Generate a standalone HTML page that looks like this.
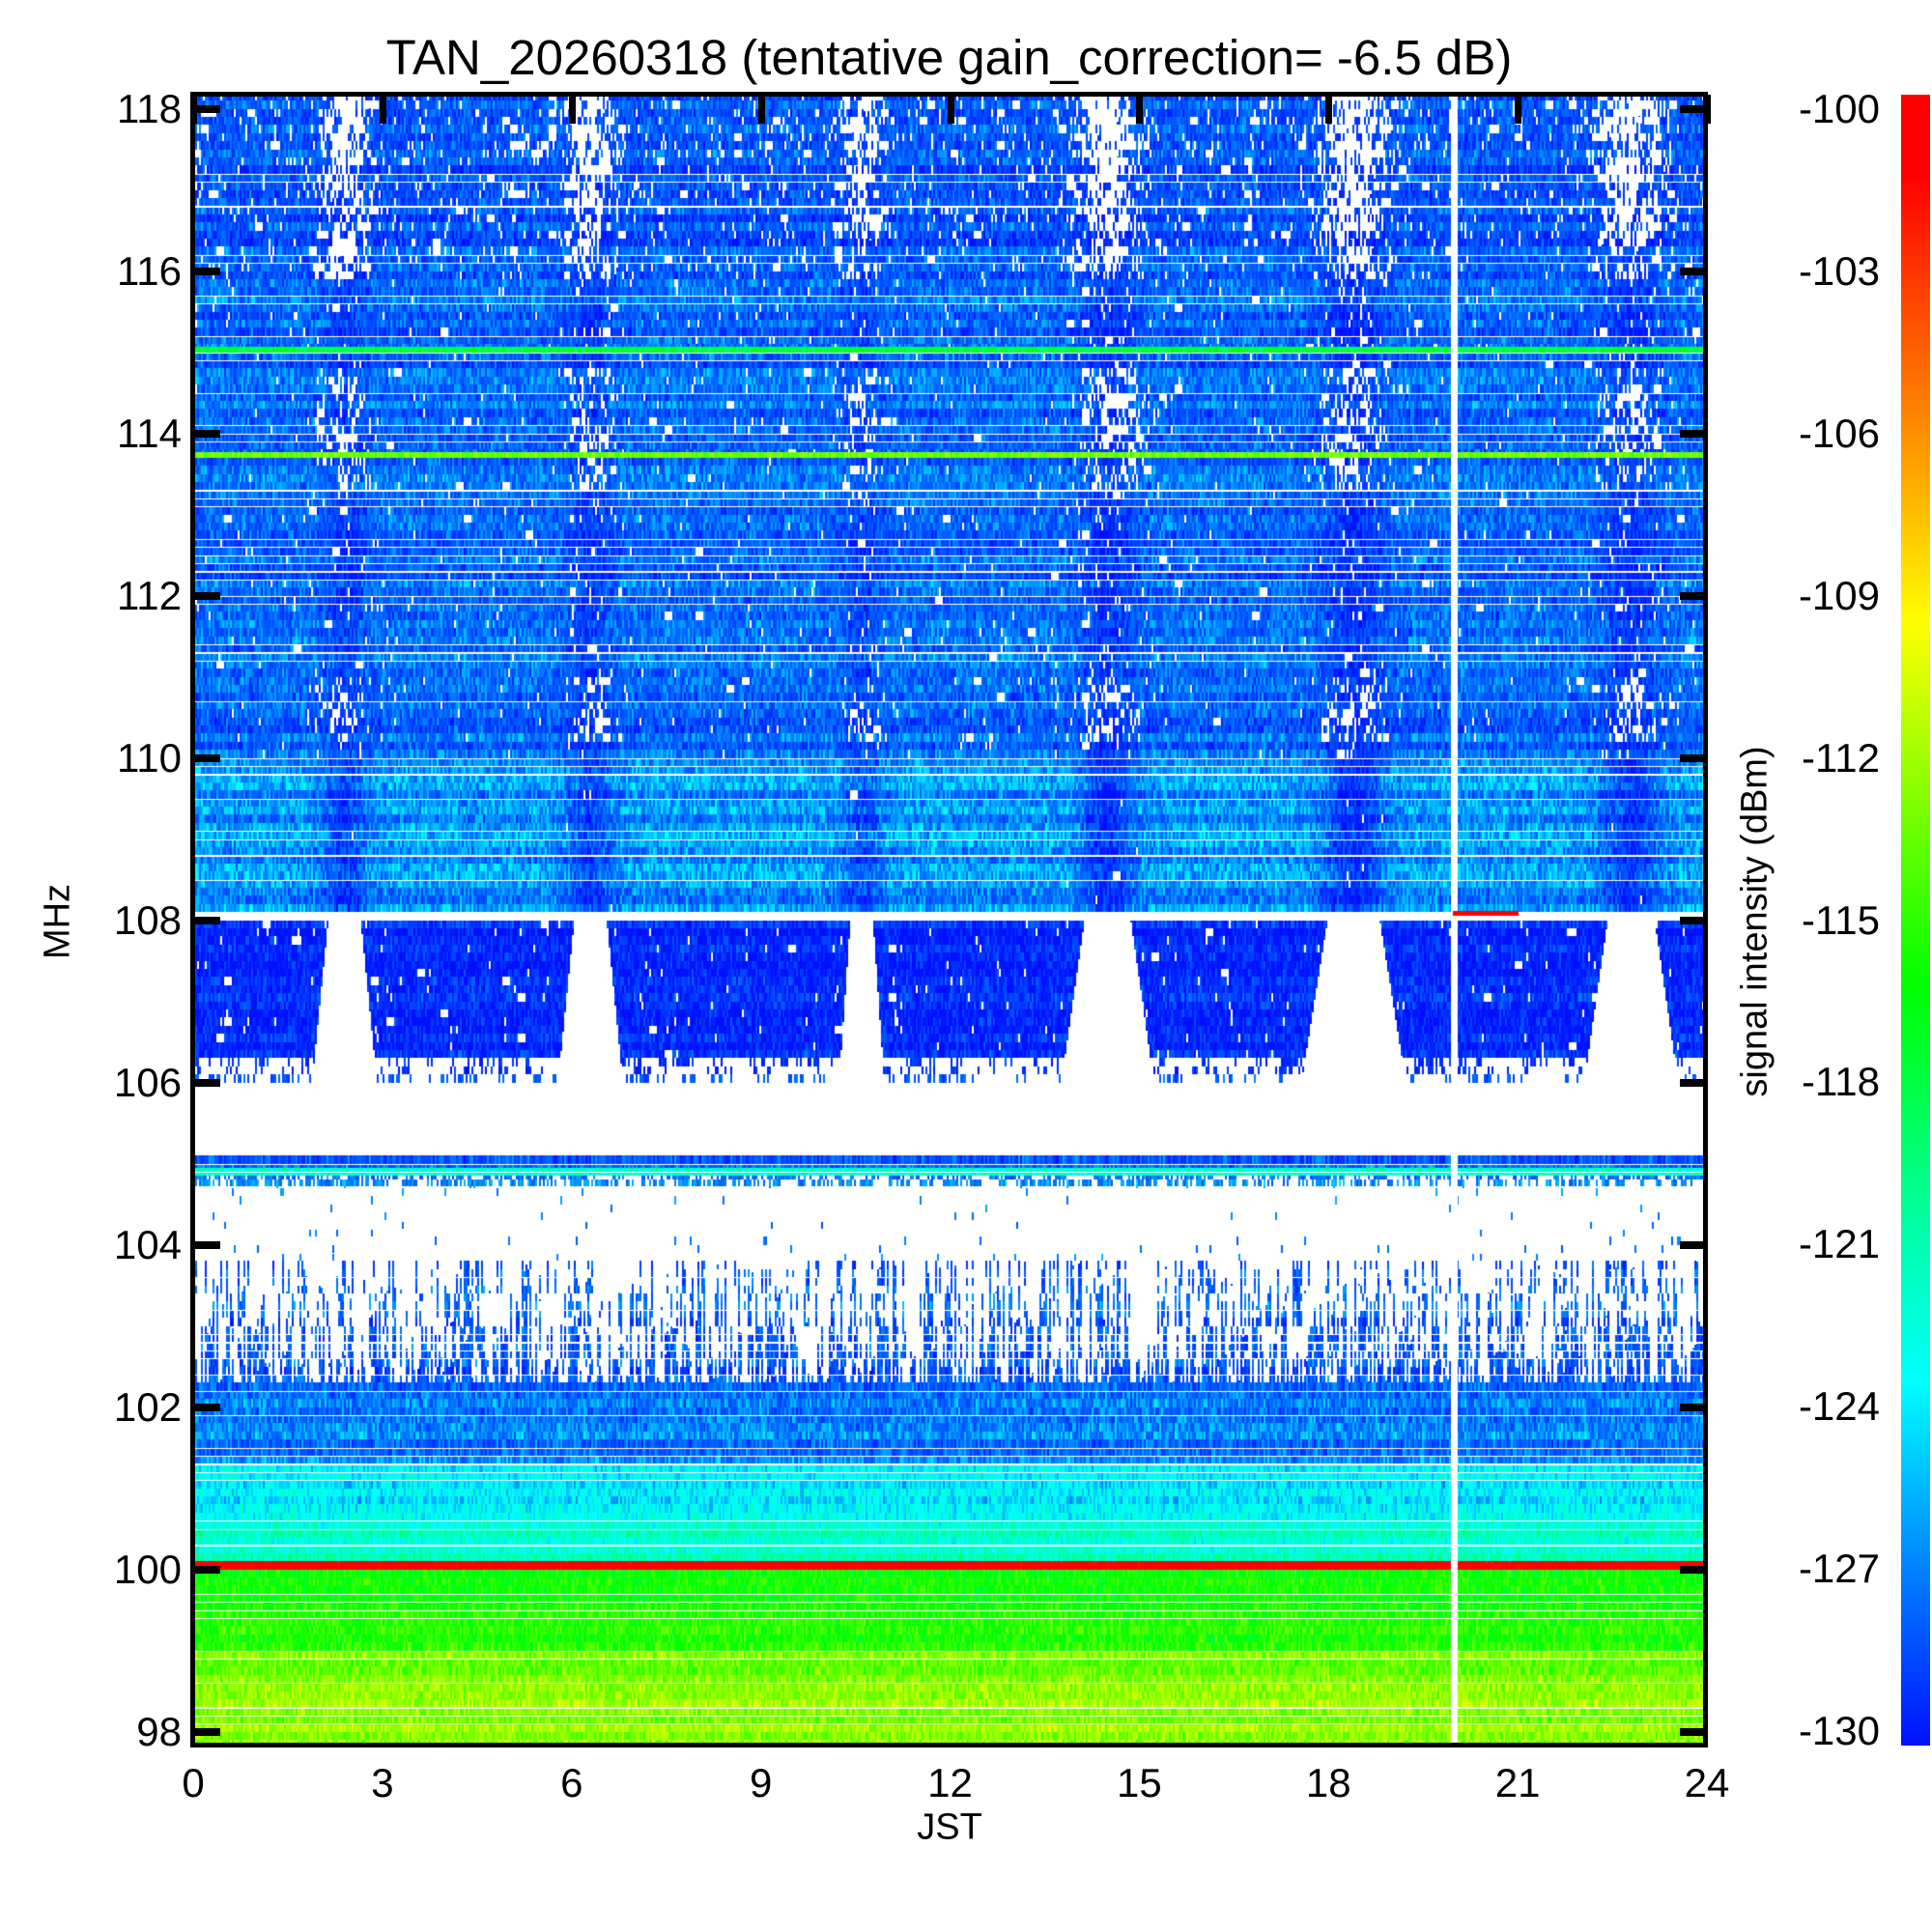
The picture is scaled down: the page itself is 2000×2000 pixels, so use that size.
<!DOCTYPE html>
<html><head><meta charset="utf-8">
<style>
html,body{margin:0;padding:0;background:#fff;}
#wrap{position:relative;width:2000px;height:2000px;overflow:hidden;font-family:"Liberation Sans",sans-serif;color:#000;}
.t{position:absolute;white-space:nowrap;}
</style></head>
<body>
<div id="wrap">
  <div class="t" style="left:0;width:1965px;text-align:center;top:30px;font-size:51px;">TAN_20260318 (tentative gain_correction= -6.5 dB)</div>
  <canvas id="hm" width="1567" height="1709" style="position:absolute;left:200px;top:98px;"></canvas>
  <div style="position:absolute;box-sizing:border-box;left:197px;top:95px;width:1571px;height:1714px;border:5px solid #000;"></div>
  <div class="t" style="left:60px;top:954px;font-size:38px;transform:translate(-50%,-50%) rotate(-90deg);">MHz</div>
  <div class="t" style="left:983px;top:1892px;font-size:38px;transform:translate(-50%,-50%);">JST</div>
  <div style="position:absolute;left:1968px;top:98px;width:30px;height:1709px;background:linear-gradient(to bottom,#ff0000 0%,#ff0000 5%,#ff8000 19%,#ffff00 32%,#00ff00 54%,#00ffaa 69%,#00ffff 78%,#0090ff 88%,#0010ff 100%);"></div>
  <div class="t" style="left:1817px;top:954px;font-size:38px;transform:translate(-50%,-50%) rotate(-90deg);">signal intensity (dBm)</div>
</div>
<script>
// ---- data ----
const yTicks = [98,100,102,104,106,108,110,112,114,116,118];
const xTicks = [0,3,6,9,12,15,18,21,24];
const cbTicks = [-100,-103,-106,-109,-112,-115,-118,-121,-124,-127,-130];
const bandLo    = [97.8, 99.0, 100.0, 100.1, 100.6, 101.3, 102.3, 103.8, 104.72, 104.85, 104.95, 105.1, 106.0, 108.0, 108.1, 110.0, 115.9];
const bandHi    = [99.0, 100.0, 100.1, 100.6, 101.3, 102.3, 103.8, 104.72, 104.85, 104.95, 105.1, 106.0, 108.0, 108.1, 110.0, 115.9, 118.3];
const bandLevel = [-113.3, -116, -100.5, -122, -124.3, -126.8, -128, -128.5, -127.5, -122.5, -127.8, -200, -128.8, -200, -126.3, -127.3, -128];
const bandDrop  = [0, 0, 0, 0, 0, 0, 0.45, 0.975, 0.35, 0, 0, 1, 0.015, 1, 0, 0.015, 0.06];
const bandBurst = [0, 0, 0, 0, 0, 0, 0, 0, 0, 0, 0, 0, 1, 0, 0.05, 0.25, 0.6];
const burstHours = [2.4, 6.3, 10.6, 14.5, 18.4, 22.8];
const burstWidth = [0.35, 0.35, 0.3, 0.42, 0.45, 0.45];
const burstStrength = [0.8, 0.8, 0.65, 0.95, 1.0, 0.9];
const burstyLo = [110.2, 113.3, 115.9];
const burstyHi = [111.0, 114.8, 118.3];
const lineFreq = [115.0, 113.7, 100.0];
const lineLevel = [-118, -113.5, -100.5];
const gapHour = 19.98;
// ---- axes ----
const X0=200, W=1567, Y0=98, H=1709;
function xOf(h){return X0 + h/24*W;}
function yOf(f){return 112.6 + (118-f)*84;}
function fOf(y){return 118 - (y-112.6)/84;}
function cbY(v){return 113 + (-100-v)*(1679/30);}
function hash(a,b){let n=(a*374761393 + b*668265263)|0; n=(n^(n>>>13))*1274126177|0; n=n^(n>>>16); return (n>>>0)/4294967296;}
function cmap(v){
  const st=[[-130,0,16,255],[-127,0,110,255],[-124,0,255,255],[-121,0,255,170],[-116.5,0,255,0],[-109.5,255,255,0],[-105,255,128,0],[-101.5,255,0,0],[-90,255,0,0]];
  if(v<=st[0][0]) return [st[0][1],st[0][2],st[0][3]];
  for(let i=1;i<st.length;i++){ if(v<=st[i][0]){const a=st[i-1],b=st[i],t=(v-a[0])/(b[0]-a[0]);return [a[1]+(b[1]-a[1])*t,a[2]+(b[2]-a[2])*t,a[3]+(b[3]-a[3])*t];}}
  return [255,0,0];
}
function burstAt(h){let b=0;for(let i=0;i<burstHours.length;i++){const d=(h-burstHours[i])/burstWidth[i];b=Math.max(b,burstStrength[i]*Math.exp(-d*d));}return b;}
const cv=document.getElementById('hm'), ctx=cv.getContext('2d');
const img=ctx.createImageData(W,H), D=img.data;
const gapX = xOf(gapHour)-X0;
for(let py=0;py<H;py++){
  const f=fOf(py+Y0+0.5);
  const r=Math.floor((f-97.8)/0.1);
  const rowFrac=((f-97.8)/0.1)-r;
  let bi=0; for(let i=0;i<bandLo.length;i++){ if(f>=bandLo[i]&&f<bandHi[i]){bi=i;break;} }
  let lineIdx=-1; for(let i=0;i<lineFreq.length;i++){ if(f>=lineFreq[i]&&f<lineFreq[i]+0.07) lineIdx=i; }
  let bursty=false; for(let i=0;i<burstyLo.length;i++){ if(f>=burstyLo[i]&&f<burstyHi[i]) bursty=true; }
  const sepLine = rowFrac>0.85 && hash(r,7)<0.42;
  const rowOff=(hash(r,3)-0.5)*1.6;
  for(let px=0;px<W;px++){
    const k=(py*W+px)*4;
    const col=px>>1;
    const h=(col*2+1)/W*24;
    let v=bandLevel[bi]+rowOff;
    let white=false;
    if(Math.abs(px-gapX)<3.5) white=true;
    if(lineIdx>=0){ v=lineLevel[lineIdx]+(hash(col,r+11)-0.5)*2.5; }
    else {
      const n1=hash(col,r), n2=hash(col>>2,r+500);
      let drop=bandDrop[bi];
      const b=burstAt(h);
      if(bi===12){
        for(let i=0;i<burstHours.length;i++){
          const w=burstWidth[i]*(0.8+(108-f)*0.4);
          if(Math.abs(h-burstHours[i])<w*burstStrength[i]*1.15) drop=1;
        }
        if(f<106.3) drop=Math.max(drop,0.55);
        v-=0.5;
        if(n2<drop*0.7 || n1<drop) white=true;
      } else if(bi===6){
        const p=0.25+(f-102.3)/1.5*0.55;
        const c1=hash(col,77), c2=hash(col,Math.floor(r/4)+300);
        if(c1<p*0.6 || c2<p*0.75 || n1<p*0.35) white=true;
      } else {
        if(bi>=14){
          let add=(bursty?bandBurst[bi]*1.3:bandBurst[bi]*0.2)*b;
          if(bi===16) add*=0.5+(f-115.9)/2.4*0.6;
          drop=Math.min(0.8,drop+add);
          v-=(bi===14?3:1.8)*b;
        }
        if(n2<drop*0.4 || n1<drop) white=true;
      }
      if(bandLevel[bi]<-150) white=true;
      v+=(n1-0.5)*3.2+(hash(col,r+900)-0.5)*1.5;
      if(bi===0) v+= (f<98.6?0.6:0);
    }
    if(f>=108.05&&f<108.12&&h>gapHour&&h<21.0){ v=-100.5; white=false; }
    if(sepLine && bi!==12 && lineIdx<0) white=true;
    if(white){D[k]=255;D[k+1]=255;D[k+2]=255;D[k+3]=255;continue;}
    const c=cmap(v);
    D[k]=c[0];D[k+1]=c[1];D[k+2]=c[2];D[k+3]=255;
  }
}
ctx.putImageData(img,0,0);
// ---- ticks & labels ----
const wrap=document.getElementById('wrap');
function box(name,l,t,w,h){const d=document.createElement('div');d.style.cssText='position:absolute;background:#000;left:'+l+'px;top:'+t+'px;width:'+w+'px;height:'+h+'px;';


wrap.appendChild(d);}
function label(name,txt,css){const d=document.createElement('div');d.className='t';d.textContent=txt;d.style.cssText=css;


wrap.appendChild(d);}
yTicks.forEach(f=>{
  const y=yOf(f);
  box('y-tick-left',200,y-4,28,8);
  box('y-tick-right',1739,y-4,28,8);
  label('y-tick-label','' + f,'right:1812px;top:'+(y-24)+'px;font-size:42px;text-align:right;');
});
xTicks.forEach(h=>{
  const x=xOf(h);
  box('x-tick-top',x-3,98,7,30);
  label('x-tick-label',''+h,'left:'+x+'px;top:1822px;font-size:42px;transform:translateX(-50%);');
});
cbTicks.forEach(v=>{
  const y=cbY(v);
  label('colorbar-tick-label',''+v,'right:54px;top:'+(y-24)+'px;font-size:42px;text-align:right;');
});
</script>
</body></html>
